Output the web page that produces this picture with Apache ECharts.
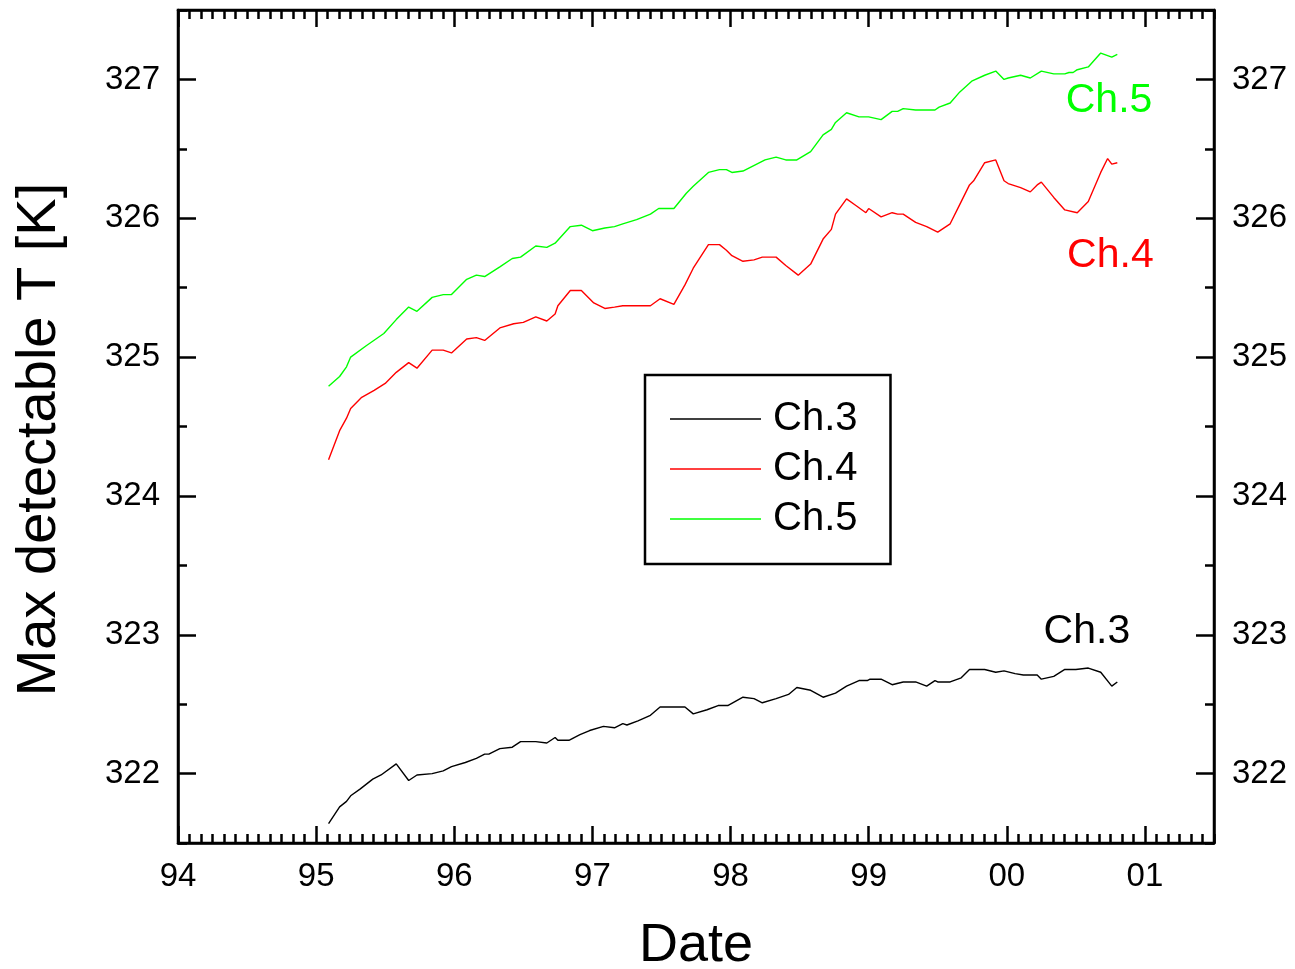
<!DOCTYPE html>
<html>
<head>
<meta charset="utf-8">
<script src="https://cdn.jsdelivr.net/npm/echarts@6/dist/echarts.min.js"></script>
<style>
html,body{margin:0;padding:0;background:#fff;}
#chart{width:1295px;height:969px;}
</style>
</head>
<body>
<div id="chart"></div>
<script>
// ---- data ----
const seriesNames = ['Ch.3', 'Ch.4', 'Ch.5'];
const seriesColors = ['#000000', '#ff0000', '#00ff00'];

const xMajorTicks = [94, 95, 96, 97, 98, 99, 100, 101];
const xTickLabels = ['94', '95', '96', '97', '98', '99', '00', '01'];
const yMajorTicks = [322, 323, 324, 325, 326, 327];

const ch3Dates = [95.09,95.17,95.22,95.25,95.32,95.41,95.47,95.58,95.67,95.73,95.84,95.92,95.98,96.08,96.16,96.22,96.25,96.33,96.42,96.48,96.59,96.67,96.73,96.75,96.83,96.91,96.98,97.08,97.16,97.22,97.25,97.33,97.42,97.49,97.58,97.67,97.73,97.83,97.91,97.98,98.09,98.17,98.23,98.33,98.42,98.48,98.58,98.67,98.76,98.84,98.93,98.99,99.01,99.09,99.17,99.25,99.34,99.42,99.48,99.50,99.59,99.67,99.73,99.84,99.92,99.98,100.06,100.12,100.22,100.25,100.34,100.42,100.50,100.59,100.68,100.76,100.80];
const ch3Temps = [321.64,321.76,321.80,321.84,321.89,321.96,321.99,322.07,321.95,321.99,322.00,322.02,322.05,322.08,322.11,322.14,322.14,322.18,322.19,322.23,322.23,322.22,322.26,322.24,322.24,322.28,322.31,322.34,322.33,322.36,322.35,322.38,322.42,322.48,322.48,322.48,322.43,322.46,322.49,322.49,322.55,322.54,322.51,322.54,322.57,322.62,322.60,322.55,322.58,322.63,322.67,322.67,322.68,322.68,322.64,322.66,322.66,322.63,322.67,322.66,322.66,322.69,322.75,322.75,322.73,322.74,322.72,322.71,322.71,322.68,322.70,322.75,322.75,322.76,322.73,322.63,322.66];

const ch4Dates = [95.09,95.17,95.22,95.25,95.33,95.42,95.50,95.58,95.67,95.73,95.84,95.92,95.98,96.09,96.16,96.22,96.33,96.43,96.50,96.59,96.67,96.73,96.75,96.84,96.92,97.01,97.09,97.16,97.22,97.32,97.42,97.49,97.59,97.67,97.73,97.84,97.92,97.97,98.01,98.09,98.17,98.23,98.33,98.40,98.49,98.58,98.67,98.73,98.76,98.84,98.91,98.98,99.00,99.09,99.17,99.21,99.25,99.34,99.42,99.50,99.59,99.66,99.73,99.76,99.84,99.92,99.98,100.01,100.10,100.17,100.22,100.25,100.34,100.42,100.51,100.59,100.68,100.73,100.76,100.80];
const ch4Temps = [324.26,324.47,324.56,324.63,324.71,324.76,324.81,324.89,324.96,324.92,325.05,325.05,325.03,325.13,325.14,325.12,325.21,325.24,325.25,325.29,325.26,325.31,325.37,325.48,325.48,325.39,325.35,325.36,325.37,325.37,325.37,325.42,325.38,325.52,325.64,325.81,325.81,325.77,325.73,325.69,325.70,325.72,325.72,325.66,325.59,325.67,325.85,325.92,326.03,326.14,326.09,326.04,326.07,326.01,326.04,326.03,326.03,325.97,325.94,325.90,325.96,326.10,326.24,326.27,326.40,326.42,326.27,326.25,326.22,326.19,326.24,326.26,326.15,326.06,326.04,326.12,326.33,326.43,326.39,326.40];

const ch5Dates = [95.09,95.17,95.22,95.25,95.36,95.49,95.58,95.67,95.73,95.84,95.92,95.98,96.09,96.16,96.22,96.33,96.42,96.48,96.59,96.67,96.73,96.84,96.92,97.00,97.09,97.16,97.22,97.32,97.42,97.48,97.59,97.68,97.73,97.84,97.92,97.97,98.01,98.09,98.25,98.33,98.40,98.48,98.58,98.67,98.73,98.76,98.84,98.93,99.00,99.09,99.17,99.21,99.25,99.34,99.48,99.51,99.59,99.66,99.75,99.84,99.92,99.98,100.01,100.10,100.17,100.25,100.34,100.42,100.45,100.48,100.51,100.59,100.68,100.76,100.80];
const ch5Temps = [324.79,324.86,324.93,325.00,325.08,325.17,325.27,325.36,325.33,325.43,325.45,325.45,325.56,325.59,325.58,325.65,325.71,325.72,325.80,325.79,325.82,325.94,325.95,325.91,325.93,325.94,325.96,325.99,326.03,326.07,326.07,326.18,326.23,326.33,326.35,326.35,326.33,326.34,326.42,326.44,326.42,326.42,326.48,326.60,326.64,326.69,326.76,326.73,326.73,326.71,326.77,326.77,326.79,326.78,326.78,326.80,326.83,326.91,326.99,327.03,327.06,327.00,327.01,327.03,327.01,327.06,327.04,327.04,327.05,327.05,327.07,327.09,327.19,327.16,327.18];

// annotation anchors (data coordinates) for the in-plot series labels
const labelAnchors = [[100.58, 323.02], [100.75, 325.73], [100.74, 326.85]];

// ---- build ----
const FONT = "'Liberation Sans', Arial, Helvetica, sans-serif";
const pairs = (xs, ys) => xs.map((x, i) => [x, ys[i]]);
const seriesData = [pairs(ch3Dates, ch3Temps), pairs(ch4Dates, ch4Temps), pairs(ch5Dates, ch5Temps)];

const xLabelFmt = v => { const i = xMajorTicks.indexOf(Math.round(v)); return i >= 0 && Math.abs(v - Math.round(v)) < 1e-6 ? xTickLabels[i] : ''; };
const yLabelFmt = v => String(Math.round(v));

const X_MIN = 94, X_MAX = 101.5, Y_MIN = 321.5, Y_MAX = 327.5;

function xAx(pos, major, withLabels) {
  const a = {
    type: 'value', position: pos, min: X_MIN, max: X_MAX,
    interval: major ? 0.5 : 1 / 12,
    splitLine: { show: false },
    axisLine: { show: major, lineStyle: { color: '#000', width: 2.5 } },
    axisTick: { show: true, inside: true, length: major ? 17 : 9, lineStyle: { color: '#000', width: 2.5 } },
    axisLabel: { show: false }
  };
  if (major) a.axisTick.customValues = xMajorTicks;
  if (withLabels) {
    a.axisLabel = { show: true, customValues: xMajorTicks, formatter: xLabelFmt, fontSize: 33, color: '#000', fontFamily: FONT, margin: 17 };
    a.name = 'Date';
    a.nameLocation = 'middle';
    a.nameGap = 76;
    a.nameTextStyle = { fontSize: 54, color: '#000', fontFamily: FONT };
  }
  return a;
}
function yAx(pos, major, withName) {
  const a = {
    type: 'value', position: pos, min: Y_MIN, max: Y_MAX, interval: 0.5,
    splitLine: { show: false },
    axisLine: { show: major, lineStyle: { color: '#000', width: 2.5 } },
    axisTick: { show: true, inside: true, length: major ? 18 : 9, lineStyle: { color: '#000', width: 2.5 } },
    axisLabel: { show: false }
  };
  if (major) {
    a.axisTick.customValues = yMajorTicks;
    a.axisLabel = { show: true, customValues: yMajorTicks, formatter: yLabelFmt, fontSize: 33, color: '#000', fontFamily: FONT, margin: 18 };
  }
  if (withName) {
    a.name = 'Max detectable T [K]';
    a.nameLocation = 'middle';
    a.nameGap = 110;
    a.nameTextStyle = { fontSize: 56, color: '#000', fontFamily: FONT, padding: [0, 26, 0, 0] };
  }
  return a;
}

const chart = echarts.init(document.getElementById('chart'), null, { renderer: 'canvas' });
chart.setOption({
  animation: false,
  backgroundColor: '#fff',
  grid: { left: 178, right: 81, top: 10, bottom: 126, show: true, borderColor: '#000', borderWidth: 2.5, backgroundColor: 'transparent', containLabel: false, outerBoundsMode: 'none' },
  xAxis: [xAx('bottom', true, true), xAx('bottom', false, false), xAx('top', true, false), xAx('top', false, false)],
  yAxis: [yAx('left', true, true), yAx('left', false, false), yAx('right', true, false), yAx('right', false, false)],
  legend: {
    data: seriesNames,
    orient: 'vertical',
    left: 645, top: 375,
    padding: [24, 33, 25, 25],
    itemGap: 10,
    itemWidth: 91, itemHeight: 1.5,
    icon: 'rect',
    borderColor: '#000', borderWidth: 2.5,
    backgroundColor: '#fff',
    textStyle: { fontSize: 40, color: '#000', fontFamily: FONT, lineHeight: 40, padding: [0, 0, 0, 7] }
  },
  series: seriesNames.map((name, i) => ({
    name: name,
    type: 'line',
    xAxisIndex: 0, yAxisIndex: 0,
    data: seriesData[i],
    symbol: 'none',
    color: seriesColors[i],
    lineStyle: { color: seriesColors[i], width: 1.4 },
    itemStyle: { color: seriesColors[i] },
    markPoint: {
      symbol: 'rect', symbolSize: 1,
      itemStyle: { color: 'transparent' },
      label: { show: true, position: 'inside', fontSize: 41, color: seriesColors[i], fontFamily: FONT, formatter: name },
      data: [{ coord: labelAnchors[i] }]
    }
  }))
});
</script>
</body>
</html>
